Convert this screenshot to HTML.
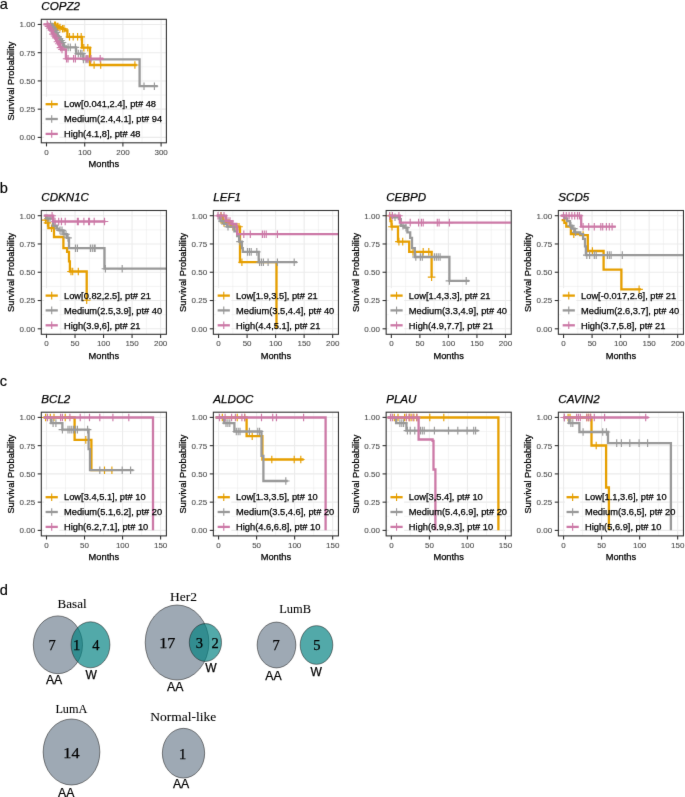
<!DOCTYPE html>
<html><head><meta charset="utf-8"><style>
html,body{margin:0;padding:0;background:#fff;width:685px;height:797px;overflow:hidden}
svg{display:block;font-family:"Liberation Sans",sans-serif}
</style></head><body>
<svg width="685" height="797" viewBox="0 0 685 797">
<defs><filter id="bl" x="0" y="0" width="685" height="797" filterUnits="userSpaceOnUse" color-interpolation-filters="sRGB"><feConvolveMatrix order="3" kernelMatrix="0.00524 0.06192 0.00524 0.06192 0.73137 0.06192 0.00524 0.06192 0.00524" divisor="1" edgeMode="duplicate" preserveAlpha="true"/></filter></defs>
<g filter="url(#bl)" stroke-width="0.25"><rect width="685" height="797" fill="#fff"/>
<rect x="41.3" y="19.3" width="125.1" height="123.5" fill="#fff"/>
<line x1="65.6" y1="19.3" x2="65.6" y2="142.8" stroke="#ebebeb" stroke-width="0.55"/>
<line x1="103.8" y1="19.3" x2="103.8" y2="142.8" stroke="#ebebeb" stroke-width="0.55"/>
<line x1="142" y1="19.3" x2="142" y2="142.8" stroke="#ebebeb" stroke-width="0.55"/>
<line x1="41.3" y1="123.28" x2="166.4" y2="123.28" stroke="#ebebeb" stroke-width="0.55"/>
<line x1="41.3" y1="95.04" x2="166.4" y2="95.04" stroke="#ebebeb" stroke-width="0.55"/>
<line x1="41.3" y1="66.81" x2="166.4" y2="66.81" stroke="#ebebeb" stroke-width="0.55"/>
<line x1="41.3" y1="38.57" x2="166.4" y2="38.57" stroke="#ebebeb" stroke-width="0.55"/>
<line x1="46.5" y1="19.3" x2="46.5" y2="142.8" stroke="#ebebeb" stroke-width="1.1"/>
<line x1="84.7" y1="19.3" x2="84.7" y2="142.8" stroke="#ebebeb" stroke-width="1.1"/>
<line x1="122.9" y1="19.3" x2="122.9" y2="142.8" stroke="#ebebeb" stroke-width="1.1"/>
<line x1="161.1" y1="19.3" x2="161.1" y2="142.8" stroke="#ebebeb" stroke-width="1.1"/>
<line x1="41.3" y1="137.4" x2="166.4" y2="137.4" stroke="#ebebeb" stroke-width="1.1"/>
<line x1="41.3" y1="109.16" x2="166.4" y2="109.16" stroke="#ebebeb" stroke-width="1.1"/>
<line x1="41.3" y1="80.93" x2="166.4" y2="80.93" stroke="#ebebeb" stroke-width="1.1"/>
<line x1="41.3" y1="52.69" x2="166.4" y2="52.69" stroke="#ebebeb" stroke-width="1.1"/>
<line x1="41.3" y1="24.45" x2="166.4" y2="24.45" stroke="#ebebeb" stroke-width="1.1"/>
<path d="M46.6 24.4H54.5V25.3H57V26.6H59V27.6H62V28.8H65V30.5H67.4V36.8H82V47.7H90V65H136.8" fill="none" stroke="#E69F00" stroke-width="2.3" stroke-linejoin="miter" stroke-linecap="butt"/>
<path d="M54.5 21.5V29.1M50.7 25.3H58.3M55.5 21.5V29.1M51.7 25.3H59.3M57 22.8V30.4M53.2 26.6H60.8M58 22.8V30.4M54.2 26.6H61.8M60 23.8V31.4M56.2 27.6H63.8M62.5 25V32.6M58.7 28.8H66.3M64 25V32.6M60.2 28.8H67.8M69.5 33V40.6M65.7 36.8H73.3M73.2 33V40.6M69.4 36.8H77M77.6 33V40.6M73.8 36.8H81.4M81.2 33V40.6M77.4 36.8H85M83.8 43.9V51.5M80 47.7H87.6M87.8 43.9V51.5M84 47.7H91.6M94.1 61.2V68.8M90.3 65H97.9M100.7 61.2V68.8M96.9 65H104.5M134.9 61.2V68.8M131.1 65H138.7" fill="none" stroke="#E69F00" stroke-width="1.15"/>
<path d="M46.6 24.4H51.73V26.41H52.95V28.42H54.18V30.43H55.41V32.44H56.64V34.45H57.86V36.45H59.09V38.46H60.32V40.47H61.55V42.48H62.77V44.49H64V46.5H66V47.4H76.1V53.6H83.4V59.4H139.6V86.2H157.7" fill="none" stroke="#999999" stroke-width="2.3" stroke-linejoin="miter" stroke-linecap="butt"/>
<path d="M50.5 20.6V28.2M46.7 24.4H54.3M52 22.61V30.21M48.2 26.41H55.8M53.5 24.62V32.22M49.7 28.42H57.3M55 26.63V34.23M51.2 30.43H58.8M56.5 28.64V36.24M52.7 32.44H60.3M58 32.65V40.25M54.2 36.45H61.8M59.5 34.66V42.26M55.7 38.46H63.3M61 36.67V44.27M57.2 40.47H64.8M62.5 38.68V46.28M58.7 42.48H66.3M64 42.7V50.3M60.2 46.5H67.8M68.1 43.6V51.2M64.3 47.4H71.9M70.3 43.6V51.2M66.5 47.4H74.1M75.4 43.6V51.2M71.6 47.4H79.2M78.3 49.8V57.4M74.5 53.6H82.1M80.5 49.8V57.4M76.7 53.6H84.3M82 49.8V57.4M78.2 53.6H85.8M83.4 55.6V63.2M79.6 59.4H87.2M86 55.6V63.2M82.2 59.4H89.8M88 55.6V63.2M84.2 59.4H91.8M144 82.4V90M140.2 86.2H147.8M154.4 82.4V90M150.6 86.2H158.2" fill="none" stroke="#999999" stroke-width="1.15"/>
<path d="M43.5 24.4H48.39V26.33H49.48V28.26H50.58V30.19H51.67V32.12H52.76V34.05H53.85V35.98H54.95V37.92H56.04V39.85H57.13V41.78H58.22V43.71H59.32V45.64H60.41V47.57H61.5V49.5H65.9V58.7H103.3" fill="none" stroke="#CC79A7" stroke-width="2.3" stroke-linejoin="miter" stroke-linecap="butt"/>
<path d="M47.3 20.6V28.2M43.5 24.4H51.1M48.5 22.53V30.13M44.7 26.33H52.3M50 24.46V32.06M46.2 28.26H53.8M51.5 26.39V33.99M47.7 30.19H55.3M53 30.25V37.85M49.2 34.05H56.8M54.5 32.18V39.78M50.7 35.98H58.3M56 34.12V41.72M52.2 37.92H59.8M57.5 37.98V45.58M53.7 41.78H61.3M59 39.91V47.51M55.2 43.71H62.8M60.5 43.77V51.37M56.7 47.57H64.3M62 45.7V53.3M58.2 49.5H65.8M66.6 54.9V62.5M62.8 58.7H70.4M68.1 54.9V62.5M64.3 58.7H71.9M73.6 54.9V62.5M69.8 58.7H77.4M75.4 54.9V62.5M71.6 58.7H79.2M86.3 54.9V62.5M82.5 58.7H90.1M87.8 54.9V62.5M84 58.7H91.6M91 54.9V62.5M87.2 58.7H94.8M100.2 54.9V62.5M96.4 58.7H104" fill="none" stroke="#CC79A7" stroke-width="1.15"/>
<rect x="44.1" y="96.8" width="15.2" height="14.8" fill="#fff"/>
<rect x="44.1" y="111.6" width="15.2" height="14.8" fill="#fff"/>
<rect x="44.1" y="126.5" width="15.2" height="14.8" fill="#fff"/>
<path d="M45.6 104.2H57.8" stroke="#E69F00" stroke-width="2.3" fill="none"/>
<path d="M51.7 100.4V108" stroke="#E69F00" stroke-width="1.15" fill="none"/>
<text transform="translate(64 107.4) scale(1 1.0)" font-size="9.3" fill="#000" stroke="#000">Low[0.041,2.4], pt# 48</text>
<path d="M45.6 119H57.8" stroke="#999999" stroke-width="2.3" fill="none"/>
<path d="M51.7 115.2V122.8" stroke="#999999" stroke-width="1.15" fill="none"/>
<text transform="translate(64 122.2) scale(1 1.0)" font-size="9.3" fill="#000" stroke="#000">Medium(2.4,4.1], pt# 94</text>
<path d="M45.6 133.9H57.8" stroke="#CC79A7" stroke-width="2.3" fill="none"/>
<path d="M51.7 130.1V137.7" stroke="#CC79A7" stroke-width="1.15" fill="none"/>
<text transform="translate(64 137.1) scale(1 1.0)" font-size="9.3" fill="#000" stroke="#000">High(4.1,8], pt# 48</text>
<rect x="41.3" y="19.3" width="125.1" height="123.5" fill="none" stroke="#333" stroke-width="1.1"/>
<line x1="37.7" y1="137.4" x2="41.3" y2="137.4" stroke="#333" stroke-width="1.1"/>
<text transform="translate(35.1 140.3) scale(1 1.0)" font-size="8.0" fill="#4d4d4d" stroke="#4d4d4d" stroke-width="0.1" text-anchor="end">0.00</text>
<line x1="37.7" y1="109.16" x2="41.3" y2="109.16" stroke="#333" stroke-width="1.1"/>
<text transform="translate(35.1 112.06) scale(1 1.0)" font-size="8.0" fill="#4d4d4d" stroke="#4d4d4d" stroke-width="0.1" text-anchor="end">0.25</text>
<line x1="37.7" y1="80.93" x2="41.3" y2="80.93" stroke="#333" stroke-width="1.1"/>
<text transform="translate(35.1 83.83) scale(1 1.0)" font-size="8.0" fill="#4d4d4d" stroke="#4d4d4d" stroke-width="0.1" text-anchor="end">0.50</text>
<line x1="37.7" y1="52.69" x2="41.3" y2="52.69" stroke="#333" stroke-width="1.1"/>
<text transform="translate(35.1 55.59) scale(1 1.0)" font-size="8.0" fill="#4d4d4d" stroke="#4d4d4d" stroke-width="0.1" text-anchor="end">0.75</text>
<line x1="37.7" y1="24.45" x2="41.3" y2="24.45" stroke="#333" stroke-width="1.1"/>
<text transform="translate(35.1 27.35) scale(1 1.0)" font-size="8.0" fill="#4d4d4d" stroke="#4d4d4d" stroke-width="0.1" text-anchor="end">1.00</text>
<line x1="46.5" y1="142.8" x2="46.5" y2="146.4" stroke="#333" stroke-width="1.1"/>
<text transform="translate(46.5 154.9) scale(1 1.0)" font-size="8.0" fill="#4d4d4d" stroke="#4d4d4d" stroke-width="0.1" text-anchor="middle">0</text>
<line x1="84.7" y1="142.8" x2="84.7" y2="146.4" stroke="#333" stroke-width="1.1"/>
<text transform="translate(84.7 154.9) scale(1 1.0)" font-size="8.0" fill="#4d4d4d" stroke="#4d4d4d" stroke-width="0.1" text-anchor="middle">100</text>
<line x1="122.9" y1="142.8" x2="122.9" y2="146.4" stroke="#333" stroke-width="1.1"/>
<text transform="translate(122.9 154.9) scale(1 1.0)" font-size="8.0" fill="#4d4d4d" stroke="#4d4d4d" stroke-width="0.1" text-anchor="middle">200</text>
<line x1="161.1" y1="142.8" x2="161.1" y2="146.4" stroke="#333" stroke-width="1.1"/>
<text transform="translate(161.1 154.9) scale(1 1.0)" font-size="8.0" fill="#4d4d4d" stroke="#4d4d4d" stroke-width="0.1" text-anchor="middle">300</text>
<text transform="translate(103.85 167.3) scale(1 1.0)" font-size="9.3" stroke="#000" text-anchor="middle">Months</text>
<text transform="translate(13.8 81.05) rotate(-90) scale(1 1.0)" x="0" y="0" font-size="9.3" stroke="#000" text-anchor="middle">Survival Probability</text>
<text transform="translate(41.3 10) scale(1 1.0)" font-size="11.6" stroke="#000" font-style="italic">COPZ2</text>
<rect x="41.3" y="210.5" width="125.1" height="123.8" fill="#fff"/>
<line x1="60.76" y1="210.5" x2="60.76" y2="334.3" stroke="#ebebeb" stroke-width="0.55"/>
<line x1="89.29" y1="210.5" x2="89.29" y2="334.3" stroke="#ebebeb" stroke-width="0.55"/>
<line x1="117.81" y1="210.5" x2="117.81" y2="334.3" stroke="#ebebeb" stroke-width="0.55"/>
<line x1="146.34" y1="210.5" x2="146.34" y2="334.3" stroke="#ebebeb" stroke-width="0.55"/>
<line x1="41.3" y1="314.66" x2="166.4" y2="314.66" stroke="#ebebeb" stroke-width="0.55"/>
<line x1="41.3" y1="286.39" x2="166.4" y2="286.39" stroke="#ebebeb" stroke-width="0.55"/>
<line x1="41.3" y1="258.11" x2="166.4" y2="258.11" stroke="#ebebeb" stroke-width="0.55"/>
<line x1="41.3" y1="229.84" x2="166.4" y2="229.84" stroke="#ebebeb" stroke-width="0.55"/>
<line x1="46.5" y1="210.5" x2="46.5" y2="334.3" stroke="#ebebeb" stroke-width="1.1"/>
<line x1="75.03" y1="210.5" x2="75.03" y2="334.3" stroke="#ebebeb" stroke-width="1.1"/>
<line x1="103.55" y1="210.5" x2="103.55" y2="334.3" stroke="#ebebeb" stroke-width="1.1"/>
<line x1="132.07" y1="210.5" x2="132.07" y2="334.3" stroke="#ebebeb" stroke-width="1.1"/>
<line x1="160.6" y1="210.5" x2="160.6" y2="334.3" stroke="#ebebeb" stroke-width="1.1"/>
<line x1="41.3" y1="328.8" x2="166.4" y2="328.8" stroke="#ebebeb" stroke-width="1.1"/>
<line x1="41.3" y1="300.52" x2="166.4" y2="300.52" stroke="#ebebeb" stroke-width="1.1"/>
<line x1="41.3" y1="272.25" x2="166.4" y2="272.25" stroke="#ebebeb" stroke-width="1.1"/>
<line x1="41.3" y1="243.97" x2="166.4" y2="243.97" stroke="#ebebeb" stroke-width="1.1"/>
<line x1="41.3" y1="215.7" x2="166.4" y2="215.7" stroke="#ebebeb" stroke-width="1.1"/>
<path d="M44.7 220.1H47.5V222.9H48.4V228.2H54V237H63.4V248.2H67.1V251.9H69V261.3H69.9V271.5H86.7V300.2" fill="none" stroke="#E69F00" stroke-width="2.3" stroke-linejoin="miter" stroke-linecap="butt"/>
<path d="M45.5 216.3V223.9M41.7 220.1H49.3M47.5 219.1V226.7M43.7 222.9H51.3M51.5 224.4V232M47.7 228.2H55.3M53.5 224.4V232M49.7 228.2H57.3M71 267.7V275.3M67.2 271.5H74.8M72.7 267.7V275.3M68.9 271.5H76.5M78.3 267.7V275.3M74.5 271.5H82.1M86.7 296.4V304M82.9 300.2H90.5" fill="none" stroke="#E69F00" stroke-width="1.15"/>
<path d="M44.7 215.7H46.5V218.5H53.1V225.75H56.8V228.55H58.7V230.4H63.4V234.2H67.1V237.9H69V248.2H104.5V268.7H166" fill="none" stroke="#999999" stroke-width="2.3" stroke-linejoin="miter" stroke-linecap="butt"/>
<path d="M48 214.7V222.3M44.2 218.5H51.8M50 214.7V222.3M46.2 218.5H53.8M55 221.95V229.55M51.2 225.75H58.8M60 226.6V234.2M56.2 230.4H63.8M62 226.6V234.2M58.2 230.4H65.8M64 230.4V238M60.2 234.2H67.8M66 230.4V238M62.2 234.2H69.8M68 234.1V241.7M64.2 237.9H71.8M75.5 244.4V252M71.7 248.2H79.3M77.4 244.4V252M73.6 248.2H81.2M90.4 244.4V252M86.6 248.2H94.2M92.3 244.4V252M88.5 248.2H96.1M94.2 244.4V252M90.4 248.2H98M95.1 244.4V252M91.3 248.2H98.9M105.4 264.9V272.5M101.6 268.7H109.2M122.2 264.9V272.5M118.4 268.7H126" fill="none" stroke="#999999" stroke-width="1.15"/>
<path d="M43.7 215.7H53.1V221.5H105.4" fill="none" stroke="#CC79A7" stroke-width="2.3" stroke-linejoin="miter" stroke-linecap="butt"/>
<path d="M52.1 211.9V219.5M48.3 215.7H55.9M55 217.7V225.3M51.2 221.5H58.8M58.7 217.7V225.3M54.9 221.5H62.5M61.5 217.7V225.3M57.7 221.5H65.3M65.2 217.7V225.3M61.4 221.5H69M77.4 217.7V225.3M73.6 221.5H81.2M78.3 217.7V225.3M74.5 221.5H82.1M83.9 217.7V225.3M80.1 221.5H87.7M88.6 217.7V225.3M84.8 221.5H92.4M89.5 217.7V225.3M85.7 221.5H93.3M94.2 217.7V225.3M90.4 221.5H98M104.5 217.7V225.3M100.7 221.5H108.3" fill="none" stroke="#CC79A7" stroke-width="1.15"/>
<rect x="44.1" y="288.2" width="15.2" height="14.8" fill="#fff"/>
<rect x="44.1" y="303" width="15.2" height="14.8" fill="#fff"/>
<rect x="44.1" y="317.9" width="15.2" height="14.8" fill="#fff"/>
<path d="M45.6 295.6H57.8" stroke="#E69F00" stroke-width="2.3" fill="none"/>
<path d="M51.7 291.8V299.4" stroke="#E69F00" stroke-width="1.15" fill="none"/>
<text transform="translate(64 298.8) scale(1 1.0)" font-size="9.3" fill="#000" stroke="#000">Low[0.82,2.5], pt# 21</text>
<path d="M45.6 310.4H57.8" stroke="#999999" stroke-width="2.3" fill="none"/>
<path d="M51.7 306.6V314.2" stroke="#999999" stroke-width="1.15" fill="none"/>
<text transform="translate(64 313.6) scale(1 1.0)" font-size="9.3" fill="#000" stroke="#000">Medium(2.5,3.9], pt# 40</text>
<path d="M45.6 325.3H57.8" stroke="#CC79A7" stroke-width="2.3" fill="none"/>
<path d="M51.7 321.5V329.1" stroke="#CC79A7" stroke-width="1.15" fill="none"/>
<text transform="translate(64 328.5) scale(1 1.0)" font-size="9.3" fill="#000" stroke="#000">High(3.9,6], pt# 21</text>
<rect x="41.3" y="210.5" width="125.1" height="123.8" fill="none" stroke="#333" stroke-width="1.1"/>
<line x1="37.7" y1="328.8" x2="41.3" y2="328.8" stroke="#333" stroke-width="1.1"/>
<text transform="translate(35.1 331.7) scale(1 1.0)" font-size="8.0" fill="#4d4d4d" stroke="#4d4d4d" stroke-width="0.1" text-anchor="end">0.00</text>
<line x1="37.7" y1="300.52" x2="41.3" y2="300.52" stroke="#333" stroke-width="1.1"/>
<text transform="translate(35.1 303.42) scale(1 1.0)" font-size="8.0" fill="#4d4d4d" stroke="#4d4d4d" stroke-width="0.1" text-anchor="end">0.25</text>
<line x1="37.7" y1="272.25" x2="41.3" y2="272.25" stroke="#333" stroke-width="1.1"/>
<text transform="translate(35.1 275.15) scale(1 1.0)" font-size="8.0" fill="#4d4d4d" stroke="#4d4d4d" stroke-width="0.1" text-anchor="end">0.50</text>
<line x1="37.7" y1="243.97" x2="41.3" y2="243.97" stroke="#333" stroke-width="1.1"/>
<text transform="translate(35.1 246.88) scale(1 1.0)" font-size="8.0" fill="#4d4d4d" stroke="#4d4d4d" stroke-width="0.1" text-anchor="end">0.75</text>
<line x1="37.7" y1="215.7" x2="41.3" y2="215.7" stroke="#333" stroke-width="1.1"/>
<text transform="translate(35.1 218.6) scale(1 1.0)" font-size="8.0" fill="#4d4d4d" stroke="#4d4d4d" stroke-width="0.1" text-anchor="end">1.00</text>
<line x1="46.5" y1="334.3" x2="46.5" y2="337.9" stroke="#333" stroke-width="1.1"/>
<text transform="translate(46.5 346.4) scale(1 1.0)" font-size="8.0" fill="#4d4d4d" stroke="#4d4d4d" stroke-width="0.1" text-anchor="middle">0</text>
<line x1="75.03" y1="334.3" x2="75.03" y2="337.9" stroke="#333" stroke-width="1.1"/>
<text transform="translate(75.03 346.4) scale(1 1.0)" font-size="8.0" fill="#4d4d4d" stroke="#4d4d4d" stroke-width="0.1" text-anchor="middle">50</text>
<line x1="103.55" y1="334.3" x2="103.55" y2="337.9" stroke="#333" stroke-width="1.1"/>
<text transform="translate(103.55 346.4) scale(1 1.0)" font-size="8.0" fill="#4d4d4d" stroke="#4d4d4d" stroke-width="0.1" text-anchor="middle">100</text>
<line x1="132.07" y1="334.3" x2="132.07" y2="337.9" stroke="#333" stroke-width="1.1"/>
<text transform="translate(132.07 346.4) scale(1 1.0)" font-size="8.0" fill="#4d4d4d" stroke="#4d4d4d" stroke-width="0.1" text-anchor="middle">150</text>
<line x1="160.6" y1="334.3" x2="160.6" y2="337.9" stroke="#333" stroke-width="1.1"/>
<text transform="translate(160.6 346.4) scale(1 1.0)" font-size="8.0" fill="#4d4d4d" stroke="#4d4d4d" stroke-width="0.1" text-anchor="middle">200</text>
<text transform="translate(103.85 358.8) scale(1 1.0)" font-size="9.3" stroke="#000" text-anchor="middle">Months</text>
<text transform="translate(13.8 272.4) rotate(-90) scale(1 1.0)" x="0" y="0" font-size="9.3" stroke="#000" text-anchor="middle">Survival Probability</text>
<text transform="translate(41.3 201.2) scale(1 1.0)" font-size="11.6" stroke="#000" font-style="italic">CDKN1C</text>
<rect x="213.36" y="210.5" width="125.1" height="123.8" fill="#fff"/>
<line x1="232.82" y1="210.5" x2="232.82" y2="334.3" stroke="#ebebeb" stroke-width="0.55"/>
<line x1="261.35" y1="210.5" x2="261.35" y2="334.3" stroke="#ebebeb" stroke-width="0.55"/>
<line x1="289.87" y1="210.5" x2="289.87" y2="334.3" stroke="#ebebeb" stroke-width="0.55"/>
<line x1="318.4" y1="210.5" x2="318.4" y2="334.3" stroke="#ebebeb" stroke-width="0.55"/>
<line x1="213.36" y1="314.66" x2="338.46" y2="314.66" stroke="#ebebeb" stroke-width="0.55"/>
<line x1="213.36" y1="286.39" x2="338.46" y2="286.39" stroke="#ebebeb" stroke-width="0.55"/>
<line x1="213.36" y1="258.11" x2="338.46" y2="258.11" stroke="#ebebeb" stroke-width="0.55"/>
<line x1="213.36" y1="229.84" x2="338.46" y2="229.84" stroke="#ebebeb" stroke-width="0.55"/>
<line x1="218.56" y1="210.5" x2="218.56" y2="334.3" stroke="#ebebeb" stroke-width="1.1"/>
<line x1="247.09" y1="210.5" x2="247.09" y2="334.3" stroke="#ebebeb" stroke-width="1.1"/>
<line x1="275.61" y1="210.5" x2="275.61" y2="334.3" stroke="#ebebeb" stroke-width="1.1"/>
<line x1="304.13" y1="210.5" x2="304.13" y2="334.3" stroke="#ebebeb" stroke-width="1.1"/>
<line x1="332.66" y1="210.5" x2="332.66" y2="334.3" stroke="#ebebeb" stroke-width="1.1"/>
<line x1="213.36" y1="328.8" x2="338.46" y2="328.8" stroke="#ebebeb" stroke-width="1.1"/>
<line x1="213.36" y1="300.52" x2="338.46" y2="300.52" stroke="#ebebeb" stroke-width="1.1"/>
<line x1="213.36" y1="272.25" x2="338.46" y2="272.25" stroke="#ebebeb" stroke-width="1.1"/>
<line x1="213.36" y1="243.97" x2="338.46" y2="243.97" stroke="#ebebeb" stroke-width="1.1"/>
<line x1="213.36" y1="215.7" x2="338.46" y2="215.7" stroke="#ebebeb" stroke-width="1.1"/>
<path d="M219.5 215.7H223.2V222.9H230.7V226.7H240V262.2H276.5V328.7" fill="none" stroke="#E69F00" stroke-width="2.3" stroke-linejoin="miter" stroke-linecap="butt"/>
<path d="M221 211.9V219.5M217.2 215.7H224.8M224 219.1V226.7M220.2 222.9H227.8M227 219.1V226.7M223.2 222.9H230.8M229 219.1V226.7M225.2 222.9H232.8M233 222.9V230.5M229.2 226.7H236.8M235 222.9V230.5M231.2 226.7H238.8M237 222.9V230.5M233.2 226.7H240.8M239 222.9V230.5M235.2 226.7H242.8M241.9 258.4V266M238.1 262.2H245.7" fill="none" stroke="#E69F00" stroke-width="1.15"/>
<path d="M216.7 215.7H219.5V218.3H220.4V221.1H224.1V223.9H226.9V226.7H234.4V231.4H237.2V236H239.1V241.6H241.9V248.2H242.8V251.9H258.7V262.2H297" fill="none" stroke="#999999" stroke-width="2.3" stroke-linejoin="miter" stroke-linecap="butt"/>
<path d="M222 217.3V224.9M218.2 221.1H225.8M228 222.9V230.5M224.2 226.7H231.8M233 222.9V230.5M229.2 226.7H236.8M240 237.8V245.4M236.2 241.6H243.8M247.5 248.1V255.7M243.7 251.9H251.3M249.4 248.1V255.7M245.6 251.9H253.2M251.2 248.1V255.7M247.4 251.9H255M256.8 248.1V255.7M253 251.9H260.6M259.6 258.4V266M255.8 262.2H263.4M261.5 258.4V266M257.7 262.2H265.3M263.4 258.4V266M259.6 262.2H267.2M268.1 258.4V266M264.3 262.2H271.9M277.4 258.4V266M273.6 262.2H281.2M294.2 258.4V266M290.4 262.2H298" fill="none" stroke="#999999" stroke-width="1.15"/>
<path d="M216.7 215.7H226V221.1H231.6V223.9H236.3V226.7H237.2V234.2H338.2" fill="none" stroke="#CC79A7" stroke-width="2.3" stroke-linejoin="miter" stroke-linecap="butt"/>
<path d="M218 211.9V219.5M214.2 215.7H221.8M221 211.9V219.5M217.2 215.7H224.8M224 211.9V219.5M220.2 215.7H227.8M228 217.3V224.9M224.2 221.1H231.8M230 217.3V224.9M226.2 221.1H233.8M233 220.1V227.7M229.2 223.9H236.8M243.8 230.4V238M240 234.2H247.6M250.3 230.4V238M246.5 234.2H254.1M262.4 230.4V238M258.6 234.2H266.2M264.3 230.4V238M260.5 234.2H268.1M266.2 230.4V238M262.4 234.2H270M277.4 230.4V238M273.6 234.2H281.2" fill="none" stroke="#CC79A7" stroke-width="1.15"/>
<rect x="216.16" y="288.2" width="15.2" height="14.8" fill="#fff"/>
<rect x="216.16" y="303" width="15.2" height="14.8" fill="#fff"/>
<rect x="216.16" y="317.9" width="15.2" height="14.8" fill="#fff"/>
<path d="M217.66 295.6H229.86" stroke="#E69F00" stroke-width="2.3" fill="none"/>
<path d="M223.76 291.8V299.4" stroke="#E69F00" stroke-width="1.15" fill="none"/>
<text transform="translate(236.06 298.8) scale(1 1.0)" font-size="9.3" fill="#000" stroke="#000">Low[1.9,3.5], pt# 21</text>
<path d="M217.66 310.4H229.86" stroke="#999999" stroke-width="2.3" fill="none"/>
<path d="M223.76 306.6V314.2" stroke="#999999" stroke-width="1.15" fill="none"/>
<text transform="translate(236.06 313.6) scale(1 1.0)" font-size="9.3" fill="#000" stroke="#000">Medium(3.5,4.4], pt# 40</text>
<path d="M217.66 325.3H229.86" stroke="#CC79A7" stroke-width="2.3" fill="none"/>
<path d="M223.76 321.5V329.1" stroke="#CC79A7" stroke-width="1.15" fill="none"/>
<text transform="translate(236.06 328.5) scale(1 1.0)" font-size="9.3" fill="#000" stroke="#000">High(4.4,5.1], pt# 21</text>
<rect x="213.36" y="210.5" width="125.1" height="123.8" fill="none" stroke="#333" stroke-width="1.1"/>
<line x1="209.76" y1="328.8" x2="213.36" y2="328.8" stroke="#333" stroke-width="1.1"/>
<text transform="translate(207.16 331.7) scale(1 1.0)" font-size="8.0" fill="#4d4d4d" stroke="#4d4d4d" stroke-width="0.1" text-anchor="end">0.00</text>
<line x1="209.76" y1="300.52" x2="213.36" y2="300.52" stroke="#333" stroke-width="1.1"/>
<text transform="translate(207.16 303.42) scale(1 1.0)" font-size="8.0" fill="#4d4d4d" stroke="#4d4d4d" stroke-width="0.1" text-anchor="end">0.25</text>
<line x1="209.76" y1="272.25" x2="213.36" y2="272.25" stroke="#333" stroke-width="1.1"/>
<text transform="translate(207.16 275.15) scale(1 1.0)" font-size="8.0" fill="#4d4d4d" stroke="#4d4d4d" stroke-width="0.1" text-anchor="end">0.50</text>
<line x1="209.76" y1="243.97" x2="213.36" y2="243.97" stroke="#333" stroke-width="1.1"/>
<text transform="translate(207.16 246.88) scale(1 1.0)" font-size="8.0" fill="#4d4d4d" stroke="#4d4d4d" stroke-width="0.1" text-anchor="end">0.75</text>
<line x1="209.76" y1="215.7" x2="213.36" y2="215.7" stroke="#333" stroke-width="1.1"/>
<text transform="translate(207.16 218.6) scale(1 1.0)" font-size="8.0" fill="#4d4d4d" stroke="#4d4d4d" stroke-width="0.1" text-anchor="end">1.00</text>
<line x1="218.56" y1="334.3" x2="218.56" y2="337.9" stroke="#333" stroke-width="1.1"/>
<text transform="translate(218.56 346.4) scale(1 1.0)" font-size="8.0" fill="#4d4d4d" stroke="#4d4d4d" stroke-width="0.1" text-anchor="middle">0</text>
<line x1="247.09" y1="334.3" x2="247.09" y2="337.9" stroke="#333" stroke-width="1.1"/>
<text transform="translate(247.09 346.4) scale(1 1.0)" font-size="8.0" fill="#4d4d4d" stroke="#4d4d4d" stroke-width="0.1" text-anchor="middle">50</text>
<line x1="275.61" y1="334.3" x2="275.61" y2="337.9" stroke="#333" stroke-width="1.1"/>
<text transform="translate(275.61 346.4) scale(1 1.0)" font-size="8.0" fill="#4d4d4d" stroke="#4d4d4d" stroke-width="0.1" text-anchor="middle">100</text>
<line x1="304.13" y1="334.3" x2="304.13" y2="337.9" stroke="#333" stroke-width="1.1"/>
<text transform="translate(304.13 346.4) scale(1 1.0)" font-size="8.0" fill="#4d4d4d" stroke="#4d4d4d" stroke-width="0.1" text-anchor="middle">150</text>
<line x1="332.66" y1="334.3" x2="332.66" y2="337.9" stroke="#333" stroke-width="1.1"/>
<text transform="translate(332.66 346.4) scale(1 1.0)" font-size="8.0" fill="#4d4d4d" stroke="#4d4d4d" stroke-width="0.1" text-anchor="middle">200</text>
<text transform="translate(275.91 358.8) scale(1 1.0)" font-size="9.3" stroke="#000" text-anchor="middle">Months</text>
<text transform="translate(185.86 272.4) rotate(-90) scale(1 1.0)" x="0" y="0" font-size="9.3" stroke="#000" text-anchor="middle">Survival Probability</text>
<text transform="translate(213.36 201.2) scale(1 1.0)" font-size="11.6" stroke="#000" font-style="italic">LEF1</text>
<rect x="386.15" y="210.5" width="125.1" height="123.8" fill="#fff"/>
<line x1="405.61" y1="210.5" x2="405.61" y2="334.3" stroke="#ebebeb" stroke-width="0.55"/>
<line x1="434.14" y1="210.5" x2="434.14" y2="334.3" stroke="#ebebeb" stroke-width="0.55"/>
<line x1="462.66" y1="210.5" x2="462.66" y2="334.3" stroke="#ebebeb" stroke-width="0.55"/>
<line x1="491.19" y1="210.5" x2="491.19" y2="334.3" stroke="#ebebeb" stroke-width="0.55"/>
<line x1="386.15" y1="314.66" x2="511.25" y2="314.66" stroke="#ebebeb" stroke-width="0.55"/>
<line x1="386.15" y1="286.39" x2="511.25" y2="286.39" stroke="#ebebeb" stroke-width="0.55"/>
<line x1="386.15" y1="258.11" x2="511.25" y2="258.11" stroke="#ebebeb" stroke-width="0.55"/>
<line x1="386.15" y1="229.84" x2="511.25" y2="229.84" stroke="#ebebeb" stroke-width="0.55"/>
<line x1="391.35" y1="210.5" x2="391.35" y2="334.3" stroke="#ebebeb" stroke-width="1.1"/>
<line x1="419.88" y1="210.5" x2="419.88" y2="334.3" stroke="#ebebeb" stroke-width="1.1"/>
<line x1="448.4" y1="210.5" x2="448.4" y2="334.3" stroke="#ebebeb" stroke-width="1.1"/>
<line x1="476.93" y1="210.5" x2="476.93" y2="334.3" stroke="#ebebeb" stroke-width="1.1"/>
<line x1="505.45" y1="210.5" x2="505.45" y2="334.3" stroke="#ebebeb" stroke-width="1.1"/>
<line x1="386.15" y1="328.8" x2="511.25" y2="328.8" stroke="#ebebeb" stroke-width="1.1"/>
<line x1="386.15" y1="300.52" x2="511.25" y2="300.52" stroke="#ebebeb" stroke-width="1.1"/>
<line x1="386.15" y1="272.25" x2="511.25" y2="272.25" stroke="#ebebeb" stroke-width="1.1"/>
<line x1="386.15" y1="243.97" x2="511.25" y2="243.97" stroke="#ebebeb" stroke-width="1.1"/>
<line x1="386.15" y1="215.7" x2="511.25" y2="215.7" stroke="#ebebeb" stroke-width="1.1"/>
<path d="M388.7 215.7H390.5V221.1H391.5V226.7H398V241.6H409.2V251.9H431.6V277.1" fill="none" stroke="#E69F00" stroke-width="2.3" stroke-linejoin="miter" stroke-linecap="butt"/>
<path d="M389.6 211.9V219.5M385.8 215.7H393.4M392 222.9V230.5M388.2 226.7H395.8M398.9 237.8V245.4M395.1 241.6H402.7M402.7 237.8V245.4M398.9 241.6H406.5M413 248.1V255.7M409.2 251.9H416.8M423.2 248.1V255.7M419.4 251.9H427M428.8 248.1V255.7M425 251.9H432.6M431.6 273.3V280.9M427.8 277.1H435.4" fill="none" stroke="#E69F00" stroke-width="1.15"/>
<path d="M391.5 215.7H392.4V217.3H398.9V219.2H400.8V225.75H404.6V227.6H407.4V232.3H410.2V237.9H412V248.2H414.8V257H449.4V280.9H469" fill="none" stroke="#999999" stroke-width="2.3" stroke-linejoin="miter" stroke-linecap="butt"/>
<path d="M395 213.5V221.1M391.2 217.3H398.8M403 221.95V229.55M399.2 225.75H406.8M406 223.8V231.4M402.2 227.6H409.8M415.8 253.2V260.8M412 257H419.6M420.4 253.2V260.8M416.6 257H424.2M422.3 253.2V260.8M418.5 257H426.1M434.4 253.2V260.8M430.6 257H438.2M436.3 253.2V260.8M432.5 257H440.1M438.2 253.2V260.8M434.4 257H442M440.1 253.2V260.8M436.3 257H443.9M449.4 277.1V284.7M445.6 280.9H453.2M466.2 277.1V284.7M462.4 280.9H470" fill="none" stroke="#999999" stroke-width="1.15"/>
<path d="M388.7 215.7H399.9V222.6H510.8" fill="none" stroke="#CC79A7" stroke-width="2.3" stroke-linejoin="miter" stroke-linecap="butt"/>
<path d="M389.6 211.9V219.5M385.8 215.7H393.4M392.4 211.9V219.5M388.6 215.7H396.2M398.9 211.9V219.5M395.1 215.7H402.7M410.2 218.8V226.4M406.4 222.6H414M418.6 218.8V226.4M414.8 222.6H422.4M421.4 218.8V226.4M417.6 222.6H425.2M423.2 218.8V226.4M419.4 222.6H427M437.3 218.8V226.4M433.5 222.6H441.1M439.1 218.8V226.4M435.3 222.6H442.9M449.4 218.8V226.4M445.6 222.6H453.2" fill="none" stroke="#CC79A7" stroke-width="1.15"/>
<rect x="388.95" y="288.2" width="15.2" height="14.8" fill="#fff"/>
<rect x="388.95" y="303" width="15.2" height="14.8" fill="#fff"/>
<rect x="388.95" y="317.9" width="15.2" height="14.8" fill="#fff"/>
<path d="M390.45 295.6H402.65" stroke="#E69F00" stroke-width="2.3" fill="none"/>
<path d="M396.55 291.8V299.4" stroke="#E69F00" stroke-width="1.15" fill="none"/>
<text transform="translate(408.85 298.8) scale(1 1.0)" font-size="9.3" fill="#000" stroke="#000">Low[1.4,3.3], pt# 21</text>
<path d="M390.45 310.4H402.65" stroke="#999999" stroke-width="2.3" fill="none"/>
<path d="M396.55 306.6V314.2" stroke="#999999" stroke-width="1.15" fill="none"/>
<text transform="translate(408.85 313.6) scale(1 1.0)" font-size="9.3" fill="#000" stroke="#000">Medium(3.3,4.9], pt# 40</text>
<path d="M390.45 325.3H402.65" stroke="#CC79A7" stroke-width="2.3" fill="none"/>
<path d="M396.55 321.5V329.1" stroke="#CC79A7" stroke-width="1.15" fill="none"/>
<text transform="translate(408.85 328.5) scale(1 1.0)" font-size="9.3" fill="#000" stroke="#000">High(4.9,7.7], pt# 21</text>
<rect x="386.15" y="210.5" width="125.1" height="123.8" fill="none" stroke="#333" stroke-width="1.1"/>
<line x1="382.55" y1="328.8" x2="386.15" y2="328.8" stroke="#333" stroke-width="1.1"/>
<text transform="translate(379.95 331.7) scale(1 1.0)" font-size="8.0" fill="#4d4d4d" stroke="#4d4d4d" stroke-width="0.1" text-anchor="end">0.00</text>
<line x1="382.55" y1="300.52" x2="386.15" y2="300.52" stroke="#333" stroke-width="1.1"/>
<text transform="translate(379.95 303.42) scale(1 1.0)" font-size="8.0" fill="#4d4d4d" stroke="#4d4d4d" stroke-width="0.1" text-anchor="end">0.25</text>
<line x1="382.55" y1="272.25" x2="386.15" y2="272.25" stroke="#333" stroke-width="1.1"/>
<text transform="translate(379.95 275.15) scale(1 1.0)" font-size="8.0" fill="#4d4d4d" stroke="#4d4d4d" stroke-width="0.1" text-anchor="end">0.50</text>
<line x1="382.55" y1="243.97" x2="386.15" y2="243.97" stroke="#333" stroke-width="1.1"/>
<text transform="translate(379.95 246.88) scale(1 1.0)" font-size="8.0" fill="#4d4d4d" stroke="#4d4d4d" stroke-width="0.1" text-anchor="end">0.75</text>
<line x1="382.55" y1="215.7" x2="386.15" y2="215.7" stroke="#333" stroke-width="1.1"/>
<text transform="translate(379.95 218.6) scale(1 1.0)" font-size="8.0" fill="#4d4d4d" stroke="#4d4d4d" stroke-width="0.1" text-anchor="end">1.00</text>
<line x1="391.35" y1="334.3" x2="391.35" y2="337.9" stroke="#333" stroke-width="1.1"/>
<text transform="translate(391.35 346.4) scale(1 1.0)" font-size="8.0" fill="#4d4d4d" stroke="#4d4d4d" stroke-width="0.1" text-anchor="middle">0</text>
<line x1="419.88" y1="334.3" x2="419.88" y2="337.9" stroke="#333" stroke-width="1.1"/>
<text transform="translate(419.88 346.4) scale(1 1.0)" font-size="8.0" fill="#4d4d4d" stroke="#4d4d4d" stroke-width="0.1" text-anchor="middle">50</text>
<line x1="448.4" y1="334.3" x2="448.4" y2="337.9" stroke="#333" stroke-width="1.1"/>
<text transform="translate(448.4 346.4) scale(1 1.0)" font-size="8.0" fill="#4d4d4d" stroke="#4d4d4d" stroke-width="0.1" text-anchor="middle">100</text>
<line x1="476.93" y1="334.3" x2="476.93" y2="337.9" stroke="#333" stroke-width="1.1"/>
<text transform="translate(476.93 346.4) scale(1 1.0)" font-size="8.0" fill="#4d4d4d" stroke="#4d4d4d" stroke-width="0.1" text-anchor="middle">150</text>
<line x1="505.45" y1="334.3" x2="505.45" y2="337.9" stroke="#333" stroke-width="1.1"/>
<text transform="translate(505.45 346.4) scale(1 1.0)" font-size="8.0" fill="#4d4d4d" stroke="#4d4d4d" stroke-width="0.1" text-anchor="middle">200</text>
<text transform="translate(448.7 358.8) scale(1 1.0)" font-size="9.3" stroke="#000" text-anchor="middle">Months</text>
<text transform="translate(358.65 272.4) rotate(-90) scale(1 1.0)" x="0" y="0" font-size="9.3" stroke="#000" text-anchor="middle">Survival Probability</text>
<text transform="translate(386.15 201.2) scale(1 1.0)" font-size="11.6" stroke="#000" font-style="italic">CEBPD</text>
<rect x="558.36" y="210.5" width="125.1" height="123.8" fill="#fff"/>
<line x1="577.82" y1="210.5" x2="577.82" y2="334.3" stroke="#ebebeb" stroke-width="0.55"/>
<line x1="606.35" y1="210.5" x2="606.35" y2="334.3" stroke="#ebebeb" stroke-width="0.55"/>
<line x1="634.87" y1="210.5" x2="634.87" y2="334.3" stroke="#ebebeb" stroke-width="0.55"/>
<line x1="663.4" y1="210.5" x2="663.4" y2="334.3" stroke="#ebebeb" stroke-width="0.55"/>
<line x1="558.36" y1="314.66" x2="683.46" y2="314.66" stroke="#ebebeb" stroke-width="0.55"/>
<line x1="558.36" y1="286.39" x2="683.46" y2="286.39" stroke="#ebebeb" stroke-width="0.55"/>
<line x1="558.36" y1="258.11" x2="683.46" y2="258.11" stroke="#ebebeb" stroke-width="0.55"/>
<line x1="558.36" y1="229.84" x2="683.46" y2="229.84" stroke="#ebebeb" stroke-width="0.55"/>
<line x1="563.56" y1="210.5" x2="563.56" y2="334.3" stroke="#ebebeb" stroke-width="1.1"/>
<line x1="592.08" y1="210.5" x2="592.08" y2="334.3" stroke="#ebebeb" stroke-width="1.1"/>
<line x1="620.61" y1="210.5" x2="620.61" y2="334.3" stroke="#ebebeb" stroke-width="1.1"/>
<line x1="649.13" y1="210.5" x2="649.13" y2="334.3" stroke="#ebebeb" stroke-width="1.1"/>
<line x1="677.66" y1="210.5" x2="677.66" y2="334.3" stroke="#ebebeb" stroke-width="1.1"/>
<line x1="558.36" y1="328.8" x2="683.46" y2="328.8" stroke="#ebebeb" stroke-width="1.1"/>
<line x1="558.36" y1="300.52" x2="683.46" y2="300.52" stroke="#ebebeb" stroke-width="1.1"/>
<line x1="558.36" y1="272.25" x2="683.46" y2="272.25" stroke="#ebebeb" stroke-width="1.1"/>
<line x1="558.36" y1="243.97" x2="683.46" y2="243.97" stroke="#ebebeb" stroke-width="1.1"/>
<line x1="558.36" y1="215.7" x2="683.46" y2="215.7" stroke="#ebebeb" stroke-width="1.1"/>
<path d="M561.6 220.1H564.4V222.9H566.3V226.7H570.9V234.2H580.3V235.1H587.8V251H603.6V269.7H621.4V289.3H641" fill="none" stroke="#E69F00" stroke-width="2.3" stroke-linejoin="miter" stroke-linecap="butt"/>
<path d="M573.8 230.4V238M570 234.2H577.6M583.1 231.3V238.9M579.3 235.1H586.9M592.4 247.2V254.8M588.6 251H596.2M639.1 285.5V293.1M635.3 289.3H642.9" fill="none" stroke="#E69F00" stroke-width="1.15"/>
<path d="M561.6 215.7H564.4V218.3H567.2V221.1H570V225.75H571.9V228.55H574.7V232.3H580.3V234.2H583.1V238.8H585V246.3H585.9V255.1H683.7" fill="none" stroke="#999999" stroke-width="2.3" stroke-linejoin="miter" stroke-linecap="butt"/>
<path d="M570.9 221.95V229.55M567.1 225.75H574.7M573.8 224.75V232.35M570 228.55H577.6M575.6 228.5V236.1M571.8 232.3H579.4M586.8 251.3V258.9M583 255.1H590.6M589.6 251.3V258.9M585.8 255.1H593.4M594.3 251.3V258.9M590.5 255.1H598.1M596.2 251.3V258.9M592.4 255.1H600M607.4 251.3V258.9M603.6 255.1H611.2M609.3 251.3V258.9M605.5 255.1H613.1M611.1 251.3V258.9M607.3 255.1H614.9M622.3 251.3V258.9M618.5 255.1H626.1" fill="none" stroke="#999999" stroke-width="1.15"/>
<path d="M560.7 215.7H581.2V226.7H615.8" fill="none" stroke="#CC79A7" stroke-width="2.3" stroke-linejoin="miter" stroke-linecap="butt"/>
<path d="M563.5 211.9V219.5M559.7 215.7H567.3M566.3 211.9V219.5M562.5 215.7H570.1M569.1 211.9V219.5M565.3 215.7H572.9M571.9 211.9V219.5M568.1 215.7H575.7M574.7 211.9V219.5M570.9 215.7H578.5M577.5 211.9V219.5M573.7 215.7H581.3M579.4 211.9V219.5M575.6 215.7H583.2M583.1 222.9V230.5M579.3 226.7H586.9M588.7 222.9V230.5M584.9 226.7H592.5M594.3 222.9V230.5M590.5 226.7H598.1M600.8 222.9V230.5M597 226.7H604.6M602.7 222.9V230.5M598.9 226.7H606.5M606.4 222.9V230.5M602.6 226.7H610.2M609.3 222.9V230.5M605.5 226.7H613.1M612.1 222.9V230.5M608.3 226.7H615.9" fill="none" stroke="#CC79A7" stroke-width="1.15"/>
<rect x="561.16" y="288.2" width="15.2" height="14.8" fill="#fff"/>
<rect x="561.16" y="303" width="15.2" height="14.8" fill="#fff"/>
<rect x="561.16" y="317.9" width="15.2" height="14.8" fill="#fff"/>
<path d="M562.66 295.6H574.86" stroke="#E69F00" stroke-width="2.3" fill="none"/>
<path d="M568.76 291.8V299.4" stroke="#E69F00" stroke-width="1.15" fill="none"/>
<text transform="translate(581.06 298.8) scale(1 1.0)" font-size="9.3" fill="#000" stroke="#000">Low[-0.017,2.6], pt# 21</text>
<path d="M562.66 310.4H574.86" stroke="#999999" stroke-width="2.3" fill="none"/>
<path d="M568.76 306.6V314.2" stroke="#999999" stroke-width="1.15" fill="none"/>
<text transform="translate(581.06 313.6) scale(1 1.0)" font-size="9.3" fill="#000" stroke="#000">Medium(2.6,3.7], pt# 40</text>
<path d="M562.66 325.3H574.86" stroke="#CC79A7" stroke-width="2.3" fill="none"/>
<path d="M568.76 321.5V329.1" stroke="#CC79A7" stroke-width="1.15" fill="none"/>
<text transform="translate(581.06 328.5) scale(1 1.0)" font-size="9.3" fill="#000" stroke="#000">High(3.7,5.8], pt# 21</text>
<rect x="558.36" y="210.5" width="125.1" height="123.8" fill="none" stroke="#333" stroke-width="1.1"/>
<line x1="554.76" y1="328.8" x2="558.36" y2="328.8" stroke="#333" stroke-width="1.1"/>
<text transform="translate(552.16 331.7) scale(1 1.0)" font-size="8.0" fill="#4d4d4d" stroke="#4d4d4d" stroke-width="0.1" text-anchor="end">0.00</text>
<line x1="554.76" y1="300.52" x2="558.36" y2="300.52" stroke="#333" stroke-width="1.1"/>
<text transform="translate(552.16 303.42) scale(1 1.0)" font-size="8.0" fill="#4d4d4d" stroke="#4d4d4d" stroke-width="0.1" text-anchor="end">0.25</text>
<line x1="554.76" y1="272.25" x2="558.36" y2="272.25" stroke="#333" stroke-width="1.1"/>
<text transform="translate(552.16 275.15) scale(1 1.0)" font-size="8.0" fill="#4d4d4d" stroke="#4d4d4d" stroke-width="0.1" text-anchor="end">0.50</text>
<line x1="554.76" y1="243.97" x2="558.36" y2="243.97" stroke="#333" stroke-width="1.1"/>
<text transform="translate(552.16 246.88) scale(1 1.0)" font-size="8.0" fill="#4d4d4d" stroke="#4d4d4d" stroke-width="0.1" text-anchor="end">0.75</text>
<line x1="554.76" y1="215.7" x2="558.36" y2="215.7" stroke="#333" stroke-width="1.1"/>
<text transform="translate(552.16 218.6) scale(1 1.0)" font-size="8.0" fill="#4d4d4d" stroke="#4d4d4d" stroke-width="0.1" text-anchor="end">1.00</text>
<line x1="563.56" y1="334.3" x2="563.56" y2="337.9" stroke="#333" stroke-width="1.1"/>
<text transform="translate(563.56 346.4) scale(1 1.0)" font-size="8.0" fill="#4d4d4d" stroke="#4d4d4d" stroke-width="0.1" text-anchor="middle">0</text>
<line x1="592.08" y1="334.3" x2="592.08" y2="337.9" stroke="#333" stroke-width="1.1"/>
<text transform="translate(592.08 346.4) scale(1 1.0)" font-size="8.0" fill="#4d4d4d" stroke="#4d4d4d" stroke-width="0.1" text-anchor="middle">50</text>
<line x1="620.61" y1="334.3" x2="620.61" y2="337.9" stroke="#333" stroke-width="1.1"/>
<text transform="translate(620.61 346.4) scale(1 1.0)" font-size="8.0" fill="#4d4d4d" stroke="#4d4d4d" stroke-width="0.1" text-anchor="middle">100</text>
<line x1="649.13" y1="334.3" x2="649.13" y2="337.9" stroke="#333" stroke-width="1.1"/>
<text transform="translate(649.13 346.4) scale(1 1.0)" font-size="8.0" fill="#4d4d4d" stroke="#4d4d4d" stroke-width="0.1" text-anchor="middle">150</text>
<line x1="677.66" y1="334.3" x2="677.66" y2="337.9" stroke="#333" stroke-width="1.1"/>
<text transform="translate(677.66 346.4) scale(1 1.0)" font-size="8.0" fill="#4d4d4d" stroke="#4d4d4d" stroke-width="0.1" text-anchor="middle">200</text>
<text transform="translate(620.91 358.8) scale(1 1.0)" font-size="9.3" stroke="#000" text-anchor="middle">Months</text>
<text transform="translate(530.86 272.4) rotate(-90) scale(1 1.0)" x="0" y="0" font-size="9.3" stroke="#000" text-anchor="middle">Survival Probability</text>
<text transform="translate(558.36 201.2) scale(1 1.0)" font-size="11.6" stroke="#000" font-style="italic">SCD5</text>
<rect x="41.3" y="412.2" width="125.1" height="123.7" fill="#fff"/>
<line x1="65.52" y1="412.2" x2="65.52" y2="535.9" stroke="#ebebeb" stroke-width="0.55"/>
<line x1="103.55" y1="412.2" x2="103.55" y2="535.9" stroke="#ebebeb" stroke-width="0.55"/>
<line x1="141.59" y1="412.2" x2="141.59" y2="535.9" stroke="#ebebeb" stroke-width="0.55"/>
<line x1="41.3" y1="516.27" x2="166.4" y2="516.27" stroke="#ebebeb" stroke-width="0.55"/>
<line x1="41.3" y1="488.02" x2="166.4" y2="488.02" stroke="#ebebeb" stroke-width="0.55"/>
<line x1="41.3" y1="459.77" x2="166.4" y2="459.77" stroke="#ebebeb" stroke-width="0.55"/>
<line x1="41.3" y1="431.52" x2="166.4" y2="431.52" stroke="#ebebeb" stroke-width="0.55"/>
<line x1="46.5" y1="412.2" x2="46.5" y2="535.9" stroke="#ebebeb" stroke-width="1.1"/>
<line x1="84.53" y1="412.2" x2="84.53" y2="535.9" stroke="#ebebeb" stroke-width="1.1"/>
<line x1="122.57" y1="412.2" x2="122.57" y2="535.9" stroke="#ebebeb" stroke-width="1.1"/>
<line x1="160.61" y1="412.2" x2="160.61" y2="535.9" stroke="#ebebeb" stroke-width="1.1"/>
<line x1="41.3" y1="530.4" x2="166.4" y2="530.4" stroke="#ebebeb" stroke-width="1.1"/>
<line x1="41.3" y1="502.15" x2="166.4" y2="502.15" stroke="#ebebeb" stroke-width="1.1"/>
<line x1="41.3" y1="473.9" x2="166.4" y2="473.9" stroke="#ebebeb" stroke-width="1.1"/>
<line x1="41.3" y1="445.65" x2="166.4" y2="445.65" stroke="#ebebeb" stroke-width="1.1"/>
<line x1="41.3" y1="417.4" x2="166.4" y2="417.4" stroke="#ebebeb" stroke-width="1.1"/>
<path d="M43.7 417.5H74.6V439.9H91.4V470.2H112.9" fill="none" stroke="#E69F00" stroke-width="2.3" stroke-linejoin="miter" stroke-linecap="butt"/>
<path d="M45.6 413.7V421.3M41.8 417.5H49.4M50.3 413.7V421.3M46.5 417.5H54.1M54 413.7V421.3M50.2 417.5H57.8M65.2 413.7V421.3M61.4 417.5H69M85.8 436.1V443.7M82 439.9H89.6M104.5 466.4V474M100.7 470.2H108.3M111.9 466.4V474M108.1 470.2H115.7" fill="none" stroke="#E69F00" stroke-width="1.15"/>
<path d="M43.7 417.5H51.2V423.1H62.4V429.6H88.6V449.2H90V470.2H133.4" fill="none" stroke="#999999" stroke-width="2.3" stroke-linejoin="miter" stroke-linecap="butt"/>
<path d="M53.1 419.3V426.9M49.3 423.1H56.9M55.9 419.3V426.9M52.1 423.1H59.7M62.4 425.8V433.4M58.6 429.6H66.2M68 425.8V433.4M64.2 429.6H71.8M69.9 425.8V433.4M66.1 429.6H73.7M71.8 425.8V433.4M68 429.6H75.6M73.6 425.8V433.4M69.8 429.6H77.4M75.5 425.8V433.4M71.7 429.6H79.3M77.4 425.8V433.4M73.6 429.6H81.2M87.6 425.8V433.4M83.8 429.6H91.4M99.8 466.4V474M96 470.2H103.6M122.2 466.4V474M118.4 470.2H126M130.6 466.4V474M126.8 470.2H134.4" fill="none" stroke="#999999" stroke-width="1.15"/>
<path d="M43.7 417.5H153V530.2" fill="none" stroke="#CC79A7" stroke-width="2.3" stroke-linejoin="miter" stroke-linecap="butt"/>
<path d="M47.5 413.7V421.3M43.7 417.5H51.3M60.6 413.7V421.3M56.8 417.5H64.4M62.4 413.7V421.3M58.6 417.5H66.2M69.9 413.7V421.3M66.1 417.5H73.7M80.2 413.7V421.3M76.4 417.5H84M89.5 413.7V421.3M85.7 417.5H93.3M99.8 413.7V421.3M96 417.5H103.6M112.9 413.7V421.3M109.1 417.5H116.7M128.8 413.7V421.3M125 417.5H132.6" fill="none" stroke="#CC79A7" stroke-width="1.15"/>
<rect x="44.1" y="489.8" width="15.2" height="14.8" fill="#fff"/>
<rect x="44.1" y="504.6" width="15.2" height="14.8" fill="#fff"/>
<rect x="44.1" y="519.5" width="15.2" height="14.8" fill="#fff"/>
<path d="M45.6 497.2H57.8" stroke="#E69F00" stroke-width="2.3" fill="none"/>
<path d="M51.7 493.4V501" stroke="#E69F00" stroke-width="1.15" fill="none"/>
<text transform="translate(64 500.4) scale(1 1.0)" font-size="9.3" fill="#000" stroke="#000">Low[3.4,5.1], pt# 10</text>
<path d="M45.6 512H57.8" stroke="#999999" stroke-width="2.3" fill="none"/>
<path d="M51.7 508.2V515.8" stroke="#999999" stroke-width="1.15" fill="none"/>
<text transform="translate(64 515.2) scale(1 1.0)" font-size="9.3" fill="#000" stroke="#000">Medium(5.1,6.2], pt# 20</text>
<path d="M45.6 526.9H57.8" stroke="#CC79A7" stroke-width="2.3" fill="none"/>
<path d="M51.7 523.1V530.7" stroke="#CC79A7" stroke-width="1.15" fill="none"/>
<text transform="translate(64 530.1) scale(1 1.0)" font-size="9.3" fill="#000" stroke="#000">High(6.2,7.1], pt# 10</text>
<rect x="41.3" y="412.2" width="125.1" height="123.7" fill="none" stroke="#333" stroke-width="1.1"/>
<line x1="37.7" y1="530.4" x2="41.3" y2="530.4" stroke="#333" stroke-width="1.1"/>
<text transform="translate(35.1 533.3) scale(1 1.0)" font-size="8.0" fill="#4d4d4d" stroke="#4d4d4d" stroke-width="0.1" text-anchor="end">0.00</text>
<line x1="37.7" y1="502.15" x2="41.3" y2="502.15" stroke="#333" stroke-width="1.1"/>
<text transform="translate(35.1 505.05) scale(1 1.0)" font-size="8.0" fill="#4d4d4d" stroke="#4d4d4d" stroke-width="0.1" text-anchor="end">0.25</text>
<line x1="37.7" y1="473.9" x2="41.3" y2="473.9" stroke="#333" stroke-width="1.1"/>
<text transform="translate(35.1 476.8) scale(1 1.0)" font-size="8.0" fill="#4d4d4d" stroke="#4d4d4d" stroke-width="0.1" text-anchor="end">0.50</text>
<line x1="37.7" y1="445.65" x2="41.3" y2="445.65" stroke="#333" stroke-width="1.1"/>
<text transform="translate(35.1 448.55) scale(1 1.0)" font-size="8.0" fill="#4d4d4d" stroke="#4d4d4d" stroke-width="0.1" text-anchor="end">0.75</text>
<line x1="37.7" y1="417.4" x2="41.3" y2="417.4" stroke="#333" stroke-width="1.1"/>
<text transform="translate(35.1 420.3) scale(1 1.0)" font-size="8.0" fill="#4d4d4d" stroke="#4d4d4d" stroke-width="0.1" text-anchor="end">1.00</text>
<line x1="46.5" y1="535.9" x2="46.5" y2="539.5" stroke="#333" stroke-width="1.1"/>
<text transform="translate(46.5 548) scale(1 1.0)" font-size="8.0" fill="#4d4d4d" stroke="#4d4d4d" stroke-width="0.1" text-anchor="middle">0</text>
<line x1="84.53" y1="535.9" x2="84.53" y2="539.5" stroke="#333" stroke-width="1.1"/>
<text transform="translate(84.53 548) scale(1 1.0)" font-size="8.0" fill="#4d4d4d" stroke="#4d4d4d" stroke-width="0.1" text-anchor="middle">50</text>
<line x1="122.57" y1="535.9" x2="122.57" y2="539.5" stroke="#333" stroke-width="1.1"/>
<text transform="translate(122.57 548) scale(1 1.0)" font-size="8.0" fill="#4d4d4d" stroke="#4d4d4d" stroke-width="0.1" text-anchor="middle">100</text>
<line x1="160.61" y1="535.9" x2="160.61" y2="539.5" stroke="#333" stroke-width="1.1"/>
<text transform="translate(160.61 548) scale(1 1.0)" font-size="8.0" fill="#4d4d4d" stroke="#4d4d4d" stroke-width="0.1" text-anchor="middle">150</text>
<text transform="translate(103.85 560.4) scale(1 1.0)" font-size="9.3" stroke="#000" text-anchor="middle">Months</text>
<text transform="translate(13.8 474.05) rotate(-90) scale(1 1.0)" x="0" y="0" font-size="9.3" stroke="#000" text-anchor="middle">Survival Probability</text>
<text transform="translate(41.3 402.9) scale(1 1.0)" font-size="11.6" stroke="#000" font-style="italic">BCL2</text>
<rect x="213.36" y="412.2" width="125.1" height="123.7" fill="#fff"/>
<line x1="237.58" y1="412.2" x2="237.58" y2="535.9" stroke="#ebebeb" stroke-width="0.55"/>
<line x1="275.61" y1="412.2" x2="275.61" y2="535.9" stroke="#ebebeb" stroke-width="0.55"/>
<line x1="313.65" y1="412.2" x2="313.65" y2="535.9" stroke="#ebebeb" stroke-width="0.55"/>
<line x1="213.36" y1="516.27" x2="338.46" y2="516.27" stroke="#ebebeb" stroke-width="0.55"/>
<line x1="213.36" y1="488.02" x2="338.46" y2="488.02" stroke="#ebebeb" stroke-width="0.55"/>
<line x1="213.36" y1="459.77" x2="338.46" y2="459.77" stroke="#ebebeb" stroke-width="0.55"/>
<line x1="213.36" y1="431.52" x2="338.46" y2="431.52" stroke="#ebebeb" stroke-width="0.55"/>
<line x1="218.56" y1="412.2" x2="218.56" y2="535.9" stroke="#ebebeb" stroke-width="1.1"/>
<line x1="256.6" y1="412.2" x2="256.6" y2="535.9" stroke="#ebebeb" stroke-width="1.1"/>
<line x1="294.63" y1="412.2" x2="294.63" y2="535.9" stroke="#ebebeb" stroke-width="1.1"/>
<line x1="332.67" y1="412.2" x2="332.67" y2="535.9" stroke="#ebebeb" stroke-width="1.1"/>
<line x1="213.36" y1="530.4" x2="338.46" y2="530.4" stroke="#ebebeb" stroke-width="1.1"/>
<line x1="213.36" y1="502.15" x2="338.46" y2="502.15" stroke="#ebebeb" stroke-width="1.1"/>
<line x1="213.36" y1="473.9" x2="338.46" y2="473.9" stroke="#ebebeb" stroke-width="1.1"/>
<line x1="213.36" y1="445.65" x2="338.46" y2="445.65" stroke="#ebebeb" stroke-width="1.1"/>
<line x1="213.36" y1="417.4" x2="338.46" y2="417.4" stroke="#ebebeb" stroke-width="1.1"/>
<path d="M215.7 417.5H246.6V436.2H262.4V459.5H303.6" fill="none" stroke="#E69F00" stroke-width="2.3" stroke-linejoin="miter" stroke-linecap="butt"/>
<path d="M222.3 413.7V421.3M218.5 417.5H226.1M237.2 413.7V421.3M233.4 417.5H241M244.7 413.7V421.3M240.9 417.5H248.5M252.2 432.4V440M248.4 436.2H256M271.8 455.7V463.3M268 459.5H275.6M294.2 455.7V463.3M290.4 459.5H298M300.8 455.7V463.3M297 459.5H304.6" fill="none" stroke="#E69F00" stroke-width="1.15"/>
<path d="M215.7 417.5H224.1V423.1H234.4V431.5H261.5V455.8H263.4V481H287.7" fill="none" stroke="#999999" stroke-width="2.3" stroke-linejoin="miter" stroke-linecap="butt"/>
<path d="M226 419.3V426.9M222.2 423.1H229.8M227.9 419.3V426.9M224.1 423.1H231.7M229.8 419.3V426.9M226 423.1H233.6M236.3 427.7V435.3M232.5 431.5H240.1M238.2 427.7V435.3M234.4 431.5H242M240 427.7V435.3M236.2 431.5H243.8M249.4 427.7V435.3M245.6 431.5H253.2M257.8 427.7V435.3M254 431.5H261.6M259.6 427.7V435.3M255.8 431.5H263.4M285.8 477.2V484.8M282 481H289.6" fill="none" stroke="#999999" stroke-width="1.15"/>
<path d="M215.7 417.5H325.6V530.2" fill="none" stroke="#CC79A7" stroke-width="2.3" stroke-linejoin="miter" stroke-linecap="butt"/>
<path d="M219.5 413.7V421.3M215.7 417.5H223.3M225.1 413.7V421.3M221.3 417.5H228.9M231.6 413.7V421.3M227.8 417.5H235.4M235.4 413.7V421.3M231.6 417.5H239.2M241.9 413.7V421.3M238.1 417.5H245.7M244.7 413.7V421.3M240.9 417.5H248.5M261.5 413.7V421.3M257.7 417.5H265.3M272.7 413.7V421.3M268.9 417.5H276.5M276.5 413.7V421.3M272.7 417.5H280.3M303.6 413.7V421.3M299.8 417.5H307.4" fill="none" stroke="#CC79A7" stroke-width="1.15"/>
<rect x="216.16" y="489.8" width="15.2" height="14.8" fill="#fff"/>
<rect x="216.16" y="504.6" width="15.2" height="14.8" fill="#fff"/>
<rect x="216.16" y="519.5" width="15.2" height="14.8" fill="#fff"/>
<path d="M217.66 497.2H229.86" stroke="#E69F00" stroke-width="2.3" fill="none"/>
<path d="M223.76 493.4V501" stroke="#E69F00" stroke-width="1.15" fill="none"/>
<text transform="translate(236.06 500.4) scale(1 1.0)" font-size="9.3" fill="#000" stroke="#000">Low[1.3,3.5], pt# 10</text>
<path d="M217.66 512H229.86" stroke="#999999" stroke-width="2.3" fill="none"/>
<path d="M223.76 508.2V515.8" stroke="#999999" stroke-width="1.15" fill="none"/>
<text transform="translate(236.06 515.2) scale(1 1.0)" font-size="9.3" fill="#000" stroke="#000">Medium(3.5,4.6], pt# 20</text>
<path d="M217.66 526.9H229.86" stroke="#CC79A7" stroke-width="2.3" fill="none"/>
<path d="M223.76 523.1V530.7" stroke="#CC79A7" stroke-width="1.15" fill="none"/>
<text transform="translate(236.06 530.1) scale(1 1.0)" font-size="9.3" fill="#000" stroke="#000">High(4.6,6.8], pt# 10</text>
<rect x="213.36" y="412.2" width="125.1" height="123.7" fill="none" stroke="#333" stroke-width="1.1"/>
<line x1="209.76" y1="530.4" x2="213.36" y2="530.4" stroke="#333" stroke-width="1.1"/>
<text transform="translate(207.16 533.3) scale(1 1.0)" font-size="8.0" fill="#4d4d4d" stroke="#4d4d4d" stroke-width="0.1" text-anchor="end">0.00</text>
<line x1="209.76" y1="502.15" x2="213.36" y2="502.15" stroke="#333" stroke-width="1.1"/>
<text transform="translate(207.16 505.05) scale(1 1.0)" font-size="8.0" fill="#4d4d4d" stroke="#4d4d4d" stroke-width="0.1" text-anchor="end">0.25</text>
<line x1="209.76" y1="473.9" x2="213.36" y2="473.9" stroke="#333" stroke-width="1.1"/>
<text transform="translate(207.16 476.8) scale(1 1.0)" font-size="8.0" fill="#4d4d4d" stroke="#4d4d4d" stroke-width="0.1" text-anchor="end">0.50</text>
<line x1="209.76" y1="445.65" x2="213.36" y2="445.65" stroke="#333" stroke-width="1.1"/>
<text transform="translate(207.16 448.55) scale(1 1.0)" font-size="8.0" fill="#4d4d4d" stroke="#4d4d4d" stroke-width="0.1" text-anchor="end">0.75</text>
<line x1="209.76" y1="417.4" x2="213.36" y2="417.4" stroke="#333" stroke-width="1.1"/>
<text transform="translate(207.16 420.3) scale(1 1.0)" font-size="8.0" fill="#4d4d4d" stroke="#4d4d4d" stroke-width="0.1" text-anchor="end">1.00</text>
<line x1="218.56" y1="535.9" x2="218.56" y2="539.5" stroke="#333" stroke-width="1.1"/>
<text transform="translate(218.56 548) scale(1 1.0)" font-size="8.0" fill="#4d4d4d" stroke="#4d4d4d" stroke-width="0.1" text-anchor="middle">0</text>
<line x1="256.6" y1="535.9" x2="256.6" y2="539.5" stroke="#333" stroke-width="1.1"/>
<text transform="translate(256.6 548) scale(1 1.0)" font-size="8.0" fill="#4d4d4d" stroke="#4d4d4d" stroke-width="0.1" text-anchor="middle">50</text>
<line x1="294.63" y1="535.9" x2="294.63" y2="539.5" stroke="#333" stroke-width="1.1"/>
<text transform="translate(294.63 548) scale(1 1.0)" font-size="8.0" fill="#4d4d4d" stroke="#4d4d4d" stroke-width="0.1" text-anchor="middle">100</text>
<line x1="332.67" y1="535.9" x2="332.67" y2="539.5" stroke="#333" stroke-width="1.1"/>
<text transform="translate(332.67 548) scale(1 1.0)" font-size="8.0" fill="#4d4d4d" stroke="#4d4d4d" stroke-width="0.1" text-anchor="middle">150</text>
<text transform="translate(275.91 560.4) scale(1 1.0)" font-size="9.3" stroke="#000" text-anchor="middle">Months</text>
<text transform="translate(185.86 474.05) rotate(-90) scale(1 1.0)" x="0" y="0" font-size="9.3" stroke="#000" text-anchor="middle">Survival Probability</text>
<text transform="translate(213.36 402.9) scale(1 1.0)" font-size="11.6" stroke="#000" font-style="italic">ALDOC</text>
<rect x="386.15" y="412.2" width="125.1" height="123.7" fill="#fff"/>
<line x1="410.37" y1="412.2" x2="410.37" y2="535.9" stroke="#ebebeb" stroke-width="0.55"/>
<line x1="448.4" y1="412.2" x2="448.4" y2="535.9" stroke="#ebebeb" stroke-width="0.55"/>
<line x1="486.44" y1="412.2" x2="486.44" y2="535.9" stroke="#ebebeb" stroke-width="0.55"/>
<line x1="386.15" y1="516.27" x2="511.25" y2="516.27" stroke="#ebebeb" stroke-width="0.55"/>
<line x1="386.15" y1="488.02" x2="511.25" y2="488.02" stroke="#ebebeb" stroke-width="0.55"/>
<line x1="386.15" y1="459.77" x2="511.25" y2="459.77" stroke="#ebebeb" stroke-width="0.55"/>
<line x1="386.15" y1="431.52" x2="511.25" y2="431.52" stroke="#ebebeb" stroke-width="0.55"/>
<line x1="391.35" y1="412.2" x2="391.35" y2="535.9" stroke="#ebebeb" stroke-width="1.1"/>
<line x1="429.39" y1="412.2" x2="429.39" y2="535.9" stroke="#ebebeb" stroke-width="1.1"/>
<line x1="467.42" y1="412.2" x2="467.42" y2="535.9" stroke="#ebebeb" stroke-width="1.1"/>
<line x1="505.46" y1="412.2" x2="505.46" y2="535.9" stroke="#ebebeb" stroke-width="1.1"/>
<line x1="386.15" y1="530.4" x2="511.25" y2="530.4" stroke="#ebebeb" stroke-width="1.1"/>
<line x1="386.15" y1="502.15" x2="511.25" y2="502.15" stroke="#ebebeb" stroke-width="1.1"/>
<line x1="386.15" y1="473.9" x2="511.25" y2="473.9" stroke="#ebebeb" stroke-width="1.1"/>
<line x1="386.15" y1="445.65" x2="511.25" y2="445.65" stroke="#ebebeb" stroke-width="1.1"/>
<line x1="386.15" y1="417.4" x2="511.25" y2="417.4" stroke="#ebebeb" stroke-width="1.1"/>
<path d="M387.7 417.5H498.4V530.2" fill="none" stroke="#E69F00" stroke-width="2.3" stroke-linejoin="miter" stroke-linecap="butt"/>
<path d="M394.3 413.7V421.3M390.5 417.5H398.1M398 413.7V421.3M394.2 417.5H401.8M404.6 413.7V421.3M400.8 417.5H408.4M406.4 413.7V421.3M402.6 417.5H410.2M409.2 413.7V421.3M405.4 417.5H413M411.1 413.7V421.3M407.3 417.5H414.9M413.9 413.7V421.3M410.1 417.5H417.7M416.7 413.7V421.3M412.9 417.5H420.5M429.8 413.7V421.3M426 417.5H433.6M443.8 413.7V421.3M440 417.5H447.6" fill="none" stroke="#E69F00" stroke-width="1.15"/>
<path d="M387.7 417.5H396.1V423.1H406.4V430.6H478.4" fill="none" stroke="#999999" stroke-width="2.3" stroke-linejoin="miter" stroke-linecap="butt"/>
<path d="M399.9 419.3V426.9M396.1 423.1H403.7M401.8 419.3V426.9M398 423.1H405.6M403.6 419.3V426.9M399.8 423.1H407.4M407.4 426.8V434.4M403.6 430.6H411.2M410.2 426.8V434.4M406.4 430.6H414M414.8 426.8V434.4M411 430.6H418.6M420.4 426.8V434.4M416.6 430.6H424.2M422.3 426.8V434.4M418.5 430.6H426.1M424.2 426.8V434.4M420.4 430.6H428M434.4 426.8V434.4M430.6 430.6H438.2M448.5 426.8V434.4M444.7 430.6H452.3M457.8 426.8V434.4M454 430.6H461.6M467.1 426.8V434.4M463.3 430.6H470.9M473.7 426.8V434.4M469.9 430.6H477.5M475.6 426.8V434.4M471.8 430.6H479.4" fill="none" stroke="#999999" stroke-width="1.15"/>
<path d="M387.7 417.5H418.6V439.5H432.6V440.8H433.5V469.5H435.4V530.2" fill="none" stroke="#CC79A7" stroke-width="2.3" stroke-linejoin="miter" stroke-linecap="butt"/>
<path d="M390.5 413.7V421.3M386.7 417.5H394.3M392.5 413.7V421.3M388.7 417.5H396.3M406.4 413.7V421.3M402.6 417.5H410.2M409.2 413.7V421.3M405.4 417.5H413M413 413.7V421.3M409.2 417.5H416.8M417 413.7V421.3M413.2 417.5H420.8" fill="none" stroke="#CC79A7" stroke-width="1.15"/>
<rect x="388.95" y="489.8" width="15.2" height="14.8" fill="#fff"/>
<rect x="388.95" y="504.6" width="15.2" height="14.8" fill="#fff"/>
<rect x="388.95" y="519.5" width="15.2" height="14.8" fill="#fff"/>
<path d="M390.45 497.2H402.65" stroke="#E69F00" stroke-width="2.3" fill="none"/>
<path d="M396.55 493.4V501" stroke="#E69F00" stroke-width="1.15" fill="none"/>
<text transform="translate(408.85 500.4) scale(1 1.0)" font-size="9.3" fill="#000" stroke="#000">Low[3,5.4], pt# 10</text>
<path d="M390.45 512H402.65" stroke="#999999" stroke-width="2.3" fill="none"/>
<path d="M396.55 508.2V515.8" stroke="#999999" stroke-width="1.15" fill="none"/>
<text transform="translate(408.85 515.2) scale(1 1.0)" font-size="9.3" fill="#000" stroke="#000">Medium(5.4,6.9], pt# 20</text>
<path d="M390.45 526.9H402.65" stroke="#CC79A7" stroke-width="2.3" fill="none"/>
<path d="M396.55 523.1V530.7" stroke="#CC79A7" stroke-width="1.15" fill="none"/>
<text transform="translate(408.85 530.1) scale(1 1.0)" font-size="9.3" fill="#000" stroke="#000">High(6.9,9.3], pt# 10</text>
<rect x="386.15" y="412.2" width="125.1" height="123.7" fill="none" stroke="#333" stroke-width="1.1"/>
<line x1="382.55" y1="530.4" x2="386.15" y2="530.4" stroke="#333" stroke-width="1.1"/>
<text transform="translate(379.95 533.3) scale(1 1.0)" font-size="8.0" fill="#4d4d4d" stroke="#4d4d4d" stroke-width="0.1" text-anchor="end">0.00</text>
<line x1="382.55" y1="502.15" x2="386.15" y2="502.15" stroke="#333" stroke-width="1.1"/>
<text transform="translate(379.95 505.05) scale(1 1.0)" font-size="8.0" fill="#4d4d4d" stroke="#4d4d4d" stroke-width="0.1" text-anchor="end">0.25</text>
<line x1="382.55" y1="473.9" x2="386.15" y2="473.9" stroke="#333" stroke-width="1.1"/>
<text transform="translate(379.95 476.8) scale(1 1.0)" font-size="8.0" fill="#4d4d4d" stroke="#4d4d4d" stroke-width="0.1" text-anchor="end">0.50</text>
<line x1="382.55" y1="445.65" x2="386.15" y2="445.65" stroke="#333" stroke-width="1.1"/>
<text transform="translate(379.95 448.55) scale(1 1.0)" font-size="8.0" fill="#4d4d4d" stroke="#4d4d4d" stroke-width="0.1" text-anchor="end">0.75</text>
<line x1="382.55" y1="417.4" x2="386.15" y2="417.4" stroke="#333" stroke-width="1.1"/>
<text transform="translate(379.95 420.3) scale(1 1.0)" font-size="8.0" fill="#4d4d4d" stroke="#4d4d4d" stroke-width="0.1" text-anchor="end">1.00</text>
<line x1="391.35" y1="535.9" x2="391.35" y2="539.5" stroke="#333" stroke-width="1.1"/>
<text transform="translate(391.35 548) scale(1 1.0)" font-size="8.0" fill="#4d4d4d" stroke="#4d4d4d" stroke-width="0.1" text-anchor="middle">0</text>
<line x1="429.39" y1="535.9" x2="429.39" y2="539.5" stroke="#333" stroke-width="1.1"/>
<text transform="translate(429.39 548) scale(1 1.0)" font-size="8.0" fill="#4d4d4d" stroke="#4d4d4d" stroke-width="0.1" text-anchor="middle">50</text>
<line x1="467.42" y1="535.9" x2="467.42" y2="539.5" stroke="#333" stroke-width="1.1"/>
<text transform="translate(467.42 548) scale(1 1.0)" font-size="8.0" fill="#4d4d4d" stroke="#4d4d4d" stroke-width="0.1" text-anchor="middle">100</text>
<line x1="505.46" y1="535.9" x2="505.46" y2="539.5" stroke="#333" stroke-width="1.1"/>
<text transform="translate(505.46 548) scale(1 1.0)" font-size="8.0" fill="#4d4d4d" stroke="#4d4d4d" stroke-width="0.1" text-anchor="middle">150</text>
<text transform="translate(448.7 560.4) scale(1 1.0)" font-size="9.3" stroke="#000" text-anchor="middle">Months</text>
<text transform="translate(358.65 474.05) rotate(-90) scale(1 1.0)" x="0" y="0" font-size="9.3" stroke="#000" text-anchor="middle">Survival Probability</text>
<text transform="translate(386.15 402.9) scale(1 1.0)" font-size="11.6" stroke="#000" font-style="italic">PLAU</text>
<rect x="558.36" y="412.2" width="125.1" height="123.7" fill="#fff"/>
<line x1="582.58" y1="412.2" x2="582.58" y2="535.9" stroke="#ebebeb" stroke-width="0.55"/>
<line x1="620.61" y1="412.2" x2="620.61" y2="535.9" stroke="#ebebeb" stroke-width="0.55"/>
<line x1="658.65" y1="412.2" x2="658.65" y2="535.9" stroke="#ebebeb" stroke-width="0.55"/>
<line x1="558.36" y1="516.27" x2="683.46" y2="516.27" stroke="#ebebeb" stroke-width="0.55"/>
<line x1="558.36" y1="488.02" x2="683.46" y2="488.02" stroke="#ebebeb" stroke-width="0.55"/>
<line x1="558.36" y1="459.77" x2="683.46" y2="459.77" stroke="#ebebeb" stroke-width="0.55"/>
<line x1="558.36" y1="431.52" x2="683.46" y2="431.52" stroke="#ebebeb" stroke-width="0.55"/>
<line x1="563.56" y1="412.2" x2="563.56" y2="535.9" stroke="#ebebeb" stroke-width="1.1"/>
<line x1="601.59" y1="412.2" x2="601.59" y2="535.9" stroke="#ebebeb" stroke-width="1.1"/>
<line x1="639.63" y1="412.2" x2="639.63" y2="535.9" stroke="#ebebeb" stroke-width="1.1"/>
<line x1="677.66" y1="412.2" x2="677.66" y2="535.9" stroke="#ebebeb" stroke-width="1.1"/>
<line x1="558.36" y1="530.4" x2="683.46" y2="530.4" stroke="#ebebeb" stroke-width="1.1"/>
<line x1="558.36" y1="502.15" x2="683.46" y2="502.15" stroke="#ebebeb" stroke-width="1.1"/>
<line x1="558.36" y1="473.9" x2="683.46" y2="473.9" stroke="#ebebeb" stroke-width="1.1"/>
<line x1="558.36" y1="445.65" x2="683.46" y2="445.65" stroke="#ebebeb" stroke-width="1.1"/>
<line x1="558.36" y1="417.4" x2="683.46" y2="417.4" stroke="#ebebeb" stroke-width="1.1"/>
<path d="M563.5 417.5H591.5V445.5H606.1V487.5H608.9V530.2" fill="none" stroke="#E69F00" stroke-width="2.3" stroke-linejoin="miter" stroke-linecap="butt"/>
<path d="M568.1 413.7V421.3M564.3 417.5H571.9M570 413.7V421.3M566.2 417.5H573.8M586.8 413.7V421.3M583 417.5H590.6M588.7 413.7V421.3M584.9 417.5H592.5M590.6 413.7V421.3M586.8 417.5H594.4M596.2 441.7V449.3M592.4 445.5H600" fill="none" stroke="#E69F00" stroke-width="1.15"/>
<path d="M563.5 417.5H569.1V423.1H579.4V432H608V443.1H670.9V530.2" fill="none" stroke="#999999" stroke-width="2.3" stroke-linejoin="miter" stroke-linecap="butt"/>
<path d="M564.4 413.7V421.3M560.6 417.5H568.2M570.9 419.3V426.9M567.1 423.1H574.7M572.8 419.3V426.9M569 423.1H576.6M583.1 428.2V435.8M579.3 432H586.9M602.7 428.2V435.8M598.9 432H606.5M606.4 428.2V435.8M602.6 432H610.2M616.7 439.3V446.9M612.9 443.1H620.5M621.4 439.3V446.9M617.6 443.1H625.2M629.8 439.3V446.9M626 443.1H633.6M639.1 439.3V446.9M635.3 443.1H642.9M647.6 439.3V446.9M643.8 443.1H651.4" fill="none" stroke="#999999" stroke-width="1.15"/>
<path d="M563.5 417.5H648.5" fill="none" stroke="#CC79A7" stroke-width="2.3" stroke-linejoin="miter" stroke-linecap="butt"/>
<path d="M564.4 413.7V421.3M560.6 417.5H568.2M576.6 413.7V421.3M572.8 417.5H580.4M578.4 413.7V421.3M574.6 417.5H582.2M580.3 413.7V421.3M576.5 417.5H584.1M586.8 413.7V421.3M583 417.5H590.6M588.7 413.7V421.3M584.9 417.5H592.5M590.6 413.7V421.3M586.8 417.5H594.4M594.3 413.7V421.3M590.5 417.5H598.1M604.6 413.7V421.3M600.8 417.5H608.4M645.7 413.7V421.3M641.9 417.5H649.5" fill="none" stroke="#CC79A7" stroke-width="1.15"/>
<rect x="565.04" y="489.8" width="15.2" height="14.8" fill="#fff"/>
<rect x="565.04" y="504.6" width="15.2" height="14.8" fill="#fff"/>
<rect x="565.04" y="519.5" width="15.2" height="14.8" fill="#fff"/>
<path d="M566.54 497.2H578.74" stroke="#E69F00" stroke-width="2.3" fill="none"/>
<path d="M572.64 493.4V501" stroke="#E69F00" stroke-width="1.15" fill="none"/>
<text transform="translate(584.94 500.4) scale(1 1.0)" font-size="9.3" fill="#000" stroke="#000">Low[1.1,3.6], pt# 10</text>
<path d="M566.54 512H578.74" stroke="#999999" stroke-width="2.3" fill="none"/>
<path d="M572.64 508.2V515.8" stroke="#999999" stroke-width="1.15" fill="none"/>
<text transform="translate(584.94 515.2) scale(1 1.0)" font-size="9.3" fill="#000" stroke="#000">Medium(3.6,5], pt# 20</text>
<path d="M566.54 526.9H578.74" stroke="#CC79A7" stroke-width="2.3" fill="none"/>
<path d="M572.64 523.1V530.7" stroke="#CC79A7" stroke-width="1.15" fill="none"/>
<text transform="translate(584.94 530.1) scale(1 1.0)" font-size="9.3" fill="#000" stroke="#000">High(5,6.9], pt# 10</text>
<rect x="558.36" y="412.2" width="125.1" height="123.7" fill="none" stroke="#333" stroke-width="1.1"/>
<line x1="554.76" y1="530.4" x2="558.36" y2="530.4" stroke="#333" stroke-width="1.1"/>
<text transform="translate(552.16 533.3) scale(1 1.0)" font-size="8.0" fill="#4d4d4d" stroke="#4d4d4d" stroke-width="0.1" text-anchor="end">0.00</text>
<line x1="554.76" y1="502.15" x2="558.36" y2="502.15" stroke="#333" stroke-width="1.1"/>
<text transform="translate(552.16 505.05) scale(1 1.0)" font-size="8.0" fill="#4d4d4d" stroke="#4d4d4d" stroke-width="0.1" text-anchor="end">0.25</text>
<line x1="554.76" y1="473.9" x2="558.36" y2="473.9" stroke="#333" stroke-width="1.1"/>
<text transform="translate(552.16 476.8) scale(1 1.0)" font-size="8.0" fill="#4d4d4d" stroke="#4d4d4d" stroke-width="0.1" text-anchor="end">0.50</text>
<line x1="554.76" y1="445.65" x2="558.36" y2="445.65" stroke="#333" stroke-width="1.1"/>
<text transform="translate(552.16 448.55) scale(1 1.0)" font-size="8.0" fill="#4d4d4d" stroke="#4d4d4d" stroke-width="0.1" text-anchor="end">0.75</text>
<line x1="554.76" y1="417.4" x2="558.36" y2="417.4" stroke="#333" stroke-width="1.1"/>
<text transform="translate(552.16 420.3) scale(1 1.0)" font-size="8.0" fill="#4d4d4d" stroke="#4d4d4d" stroke-width="0.1" text-anchor="end">1.00</text>
<line x1="563.56" y1="535.9" x2="563.56" y2="539.5" stroke="#333" stroke-width="1.1"/>
<text transform="translate(563.56 548) scale(1 1.0)" font-size="8.0" fill="#4d4d4d" stroke="#4d4d4d" stroke-width="0.1" text-anchor="middle">0</text>
<line x1="601.59" y1="535.9" x2="601.59" y2="539.5" stroke="#333" stroke-width="1.1"/>
<text transform="translate(601.59 548) scale(1 1.0)" font-size="8.0" fill="#4d4d4d" stroke="#4d4d4d" stroke-width="0.1" text-anchor="middle">50</text>
<line x1="639.63" y1="535.9" x2="639.63" y2="539.5" stroke="#333" stroke-width="1.1"/>
<text transform="translate(639.63 548) scale(1 1.0)" font-size="8.0" fill="#4d4d4d" stroke="#4d4d4d" stroke-width="0.1" text-anchor="middle">100</text>
<line x1="677.66" y1="535.9" x2="677.66" y2="539.5" stroke="#333" stroke-width="1.1"/>
<text transform="translate(677.66 548) scale(1 1.0)" font-size="8.0" fill="#4d4d4d" stroke="#4d4d4d" stroke-width="0.1" text-anchor="middle">150</text>
<text transform="translate(620.91 560.4) scale(1 1.0)" font-size="9.3" stroke="#000" text-anchor="middle">Months</text>
<text transform="translate(530.86 474.05) rotate(-90) scale(1 1.0)" x="0" y="0" font-size="9.3" stroke="#000" text-anchor="middle">Survival Probability</text>
<text transform="translate(558.36 402.9) scale(1 1.0)" font-size="11.6" stroke="#000" font-style="italic">CAVIN2</text>
<text x="-0.2" y="9.3" font-size="14.6" stroke="#000" stroke-width="0.15">a</text>
<text x="-0.2" y="192.7" font-size="14.6" stroke="#000" stroke-width="0.15">b</text>
<text x="-0.2" y="386.1" font-size="14.6" stroke="#000" stroke-width="0.15">c</text>
<text x="-0.2" y="595.0" font-size="14.6" stroke="#000" stroke-width="0.15">d</text>
<text x="72.1" y="607.5" font-size="12" text-anchor="middle" stroke="#000" font-family="Liberation Serif, serif" stroke-width="0.08" textLength="29" lengthAdjust="spacingAndGlyphs">Basal</text>
<ellipse cx="57.9" cy="644.8" rx="24.6" ry="28.9" fill="#708090" fill-opacity="0.68" stroke="#1a1a1a" stroke-opacity="0.75" stroke-width="0.7"/>
<ellipse cx="90.5" cy="644.8" rx="19.4" ry="23" fill="#008080" fill-opacity="0.68" stroke="#1a1a1a" stroke-opacity="0.75" stroke-width="0.7"/>
<text x="52.2" y="649.6" font-size="14.5" text-anchor="middle" stroke="#000" font-family="Liberation Serif, serif">7</text>
<text x="76.5" y="649.6" font-size="14.5" text-anchor="middle" stroke="#000" font-family="Liberation Serif, serif">1</text>
<text x="95.8" y="649.6" font-size="14.5" text-anchor="middle" stroke="#000" font-family="Liberation Serif, serif">4</text>
<text x="54.1" y="683.6" font-size="12.5" text-anchor="middle" stroke="#000" textLength="16.4" lengthAdjust="spacingAndGlyphs">AA</text>
<text x="91.1" y="678.9" font-size="12.5" text-anchor="middle" stroke="#000" textLength="11.4" lengthAdjust="spacingAndGlyphs">W</text>
<text x="183.5" y="601.1" font-size="12" text-anchor="middle" stroke="#000" font-family="Liberation Serif, serif" stroke-width="0.08" textLength="27" lengthAdjust="spacingAndGlyphs">Her2</text>
<ellipse cx="177.05" cy="642.5" rx="31.85" ry="37.5" fill="#708090" fill-opacity="0.68" stroke="#1a1a1a" stroke-opacity="0.75" stroke-width="0.7"/>
<ellipse cx="205.4" cy="642.5" rx="16.1" ry="18.9" fill="#008080" fill-opacity="0.68" stroke="#1a1a1a" stroke-opacity="0.75" stroke-width="0.7"/>
<text x="167.3" y="647.6" font-size="14.5" text-anchor="middle" stroke="#000" font-family="Liberation Serif, serif" textLength="16.2" lengthAdjust="spacingAndGlyphs">17</text>
<text x="199.3" y="647.6" font-size="14.5" text-anchor="middle" stroke="#000" font-family="Liberation Serif, serif">3</text>
<text x="215.1" y="647.6" font-size="14.5" text-anchor="middle" stroke="#000" font-family="Liberation Serif, serif">2</text>
<text x="175.3" y="690.8" font-size="12.5" text-anchor="middle" stroke="#000" textLength="16.4" lengthAdjust="spacingAndGlyphs">AA</text>
<text x="210.9" y="671.7" font-size="12.5" text-anchor="middle" stroke="#000" textLength="11.4" lengthAdjust="spacingAndGlyphs">W</text>
<text x="295.1" y="613.1" font-size="12" text-anchor="middle" stroke="#000" font-family="Liberation Serif, serif" stroke-width="0.08" textLength="31.8" lengthAdjust="spacingAndGlyphs">LumB</text>
<ellipse cx="276.5" cy="645" rx="19.35" ry="22.9" fill="#708090" fill-opacity="0.68" stroke="#1a1a1a" stroke-opacity="0.75" stroke-width="0.7"/>
<ellipse cx="316.5" cy="645" rx="16.3" ry="19.35" fill="#008080" fill-opacity="0.68" stroke="#1a1a1a" stroke-opacity="0.75" stroke-width="0.7"/>
<text x="276.1" y="649.7" font-size="14.5" text-anchor="middle" stroke="#000" font-family="Liberation Serif, serif">7</text>
<text x="316.8" y="649.7" font-size="14.5" text-anchor="middle" stroke="#000" font-family="Liberation Serif, serif">5</text>
<text x="273.4" y="679.9" font-size="12.5" text-anchor="middle" stroke="#000" textLength="16.4" lengthAdjust="spacingAndGlyphs">AA</text>
<text x="316.3" y="676.2" font-size="12.5" text-anchor="middle" stroke="#000" textLength="11.4" lengthAdjust="spacingAndGlyphs">W</text>
<text x="71.4" y="713.1" font-size="12" text-anchor="middle" stroke="#000" font-family="Liberation Serif, serif" stroke-width="0.08" textLength="32" lengthAdjust="spacingAndGlyphs">LumA</text>
<ellipse cx="71.5" cy="752" rx="28.35" ry="33" fill="#708090" fill-opacity="0.68" stroke="#1a1a1a" stroke-opacity="0.75" stroke-width="0.7"/>
<text x="71.4" y="757.6" font-size="14.5" text-anchor="middle" stroke="#000" font-family="Liberation Serif, serif" textLength="16.2" lengthAdjust="spacingAndGlyphs">14</text>
<text x="66.2" y="796.7" font-size="12.5" text-anchor="middle" stroke="#000" textLength="16.4" lengthAdjust="spacingAndGlyphs">AA</text>
<text x="183.3" y="720.8" font-size="12" text-anchor="middle" stroke="#000" font-family="Liberation Serif, serif" stroke-width="0.08" textLength="66" lengthAdjust="spacingAndGlyphs">Normal-like</text>
<ellipse cx="183.5" cy="753.2" rx="21.15" ry="24.85" fill="#708090" fill-opacity="0.68" stroke="#1a1a1a" stroke-opacity="0.75" stroke-width="0.7"/>
<text x="182.7" y="758.5" font-size="14.5" text-anchor="middle" stroke="#000" font-family="Liberation Serif, serif">1</text>
<text x="181.1" y="788.1" font-size="12.5" text-anchor="middle" stroke="#000" textLength="16.4" lengthAdjust="spacingAndGlyphs">AA</text>
</g>
</svg>
</body></html>
